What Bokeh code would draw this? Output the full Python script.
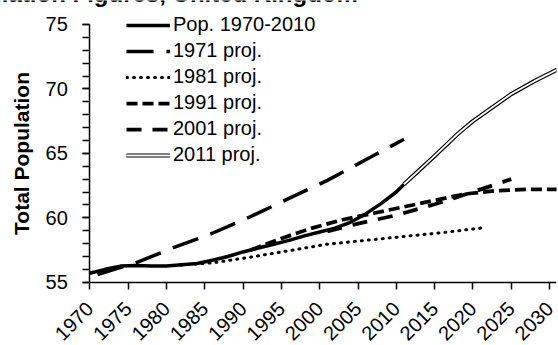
import math
from bokeh.plotting import figure
from bokeh.models import (Range1d, SingleIntervalTicker, FixedTicker, Legend, LegendItem, Label)
from bokeh.embed import file_html
from bokeh.resources import INLINE

# ---- data ----
pop_years = [1970, 1972, 1974, 1976, 1978, 1980, 1982, 1984, 1986, 1988, 1990,
             1992, 1994, 1996, 1998, 2000, 2002, 2004, 2006, 2008, 2010, 2011]
pop_vals = [55.7, 56.0, 56.25, 56.3, 56.25, 56.25, 56.35, 56.45, 56.7, 57.0, 57.35,
            57.65, 57.95, 58.25, 58.6, 58.9, 59.2, 59.65, 60.3, 61.1, 62.0, 62.6]

p1971_years = [1971, 1976, 1981, 1986, 1991, 1996, 2001, 2006, 2011]
p1971_vals = [55.6, 56.5, 57.7, 58.8, 60.1, 61.5, 62.9, 64.5, 66.1]

p1981_years = [1981, 1986, 1991, 1996, 2001, 2006, 2011, 2016, 2021]
p1981_vals = [56.3, 56.5, 56.95, 57.45, 57.95, 58.25, 58.55, 58.85, 59.2]

p1991_years = [1991, 1995, 1999, 2003, 2007, 2011, 2015, 2019, 2023, 2027, 2031]
p1991_vals = [57.5, 58.4, 59.2, 59.85, 60.35, 60.85, 61.35, 61.85, 62.1, 62.2, 62.2]

p2001_years = [2001, 2005, 2010, 2015, 2020, 2025]
p2001_vals = [58.95, 59.55, 60.2, 61.05, 62.0, 63.0]

p2011_years = [2011, 2013, 2015, 2018, 2020, 2022, 2025, 2028, 2031]
p2011_vals = [62.6, 63.7, 64.8, 66.5, 67.5, 68.35, 69.6, 70.6, 71.5]

x_ticks = list(range(1970, 2031, 5))
x_axis_span = (1970, 2030.9)
y_axis_span = (55, 75)
series_labels = ["Pop. 1970-2010", "1971 proj.", "1981 proj.", "1991 proj.", "2001 proj.", "2011 proj."]
title_text = "Population Figures, United Kingdom"
y_label = "Total Population"

FONT = "Liberation Sans"

# the frame spans the whole canvas; both axes are pinned at (1970, 55)
p = figure(width=558, height=345, x_range=Range1d(1958.35, 2030.9), y_range=Range1d(50.09, 76.86),
           output_backend="svg", toolbar_location=None,
           min_border_left=0, min_border_right=2, min_border_top=0, min_border_bottom=0)
p.outline_line_color = None
p.xgrid.visible = False
p.ygrid.visible = False
p.background_fill_color = "white"
p.border_fill_color = "white"

# axes
for ax in (p.xaxis[0], p.yaxis[0]):
    ax.axis_line_color = "black"
    ax.axis_line_width = 1.5
    ax.major_tick_line_color = "black"
    ax.major_tick_line_width = 1.5
    ax.major_tick_in = 0
    ax.major_tick_out = 7
    ax.major_label_text_font = FONT
    ax.major_label_text_font_size = "20px"
    ax.major_label_text_color = "black"

p.xaxis.ticker = FixedTicker(ticks=x_ticks)
p.xaxis.fixed_location = y_axis_span[0]
p.xaxis.bounds = x_axis_span
p.xaxis.minor_tick_line_color = None
p.xaxis.major_label_orientation = math.pi / 4
p.xaxis.major_label_standoff = 16

p.yaxis.fixed_location = x_axis_span[0]
p.yaxis.bounds = y_axis_span
p.yaxis.ticker = SingleIntervalTicker(interval=5, num_minor_ticks=5)
p.yaxis.minor_tick_line_color = "black"
p.yaxis.minor_tick_line_width = 1.5
p.yaxis.minor_tick_in = 0
p.yaxis.minor_tick_out = 7
p.yaxis.major_label_standoff = 15
p.yaxis.axis_label = y_label
p.yaxis.axis_label_text_font = FONT
p.yaxis.axis_label_text_font_size = "21px"
p.yaxis.axis_label_text_font_style = "bold"
p.yaxis.axis_label_text_color = "black"
p.yaxis.axis_label_standoff = 9

# series
r_pop = p.line(pop_years, pop_vals, line_color="black", line_width=3.5)
r71 = p.line(p1971_years, p1971_vals, line_color="black", line_width=3.5, line_dash="27 13")
r81 = p.line(p1981_years, p1981_vals, line_color="black", line_width=3, line_dash="1 6", line_cap="round")
r91 = p.line(p1991_years, p1991_vals, line_color="black", line_width=3.75, line_dash="11 5")
r01 = p.line(p2001_years, p2001_vals, line_color="black", line_width=3.75, line_dash="15 11")
r11a = p.line(p2011_years, p2011_vals, line_color="black", line_width=4.2)
r11b = p.line(p2011_years, p2011_vals, line_color="white", line_width=1.8)

legend = Legend(items=[
    LegendItem(label=series_labels[0], renderers=[r_pop]),
    LegendItem(label=series_labels[1], renderers=[r71]),
    LegendItem(label=series_labels[2], renderers=[r81]),
    LegendItem(label=series_labels[3], renderers=[r91]),
    LegendItem(label=series_labels[4], renderers=[r01]),
    LegendItem(label=series_labels[5], renderers=[r11a, r11b]),
], location=(126, 179))
legend.padding = 0
legend.margin = 0
legend.spacing = 3
legend.glyph_width = 44
legend.glyph_height = 20
legend.label_height = 20
legend.label_standoff = 3
legend.label_text_font = FONT
legend.label_text_font_size = "20px"
legend.label_text_color = "black"
legend.border_line_color = None
legend.background_fill_alpha = 0
p.add_layout(legend)

# title, mostly cut off at the top of the picture (only descenders show)
title = Label(x=1950.7, y=77.44, text=title_text, text_font=FONT, text_font_size="24px",
              text_font_style="bold", text_baseline="alphabetic", text_align="left",
              text_color="black")
p.add_layout(title)

open("out.html", "w").write(file_html(p, INLINE))
